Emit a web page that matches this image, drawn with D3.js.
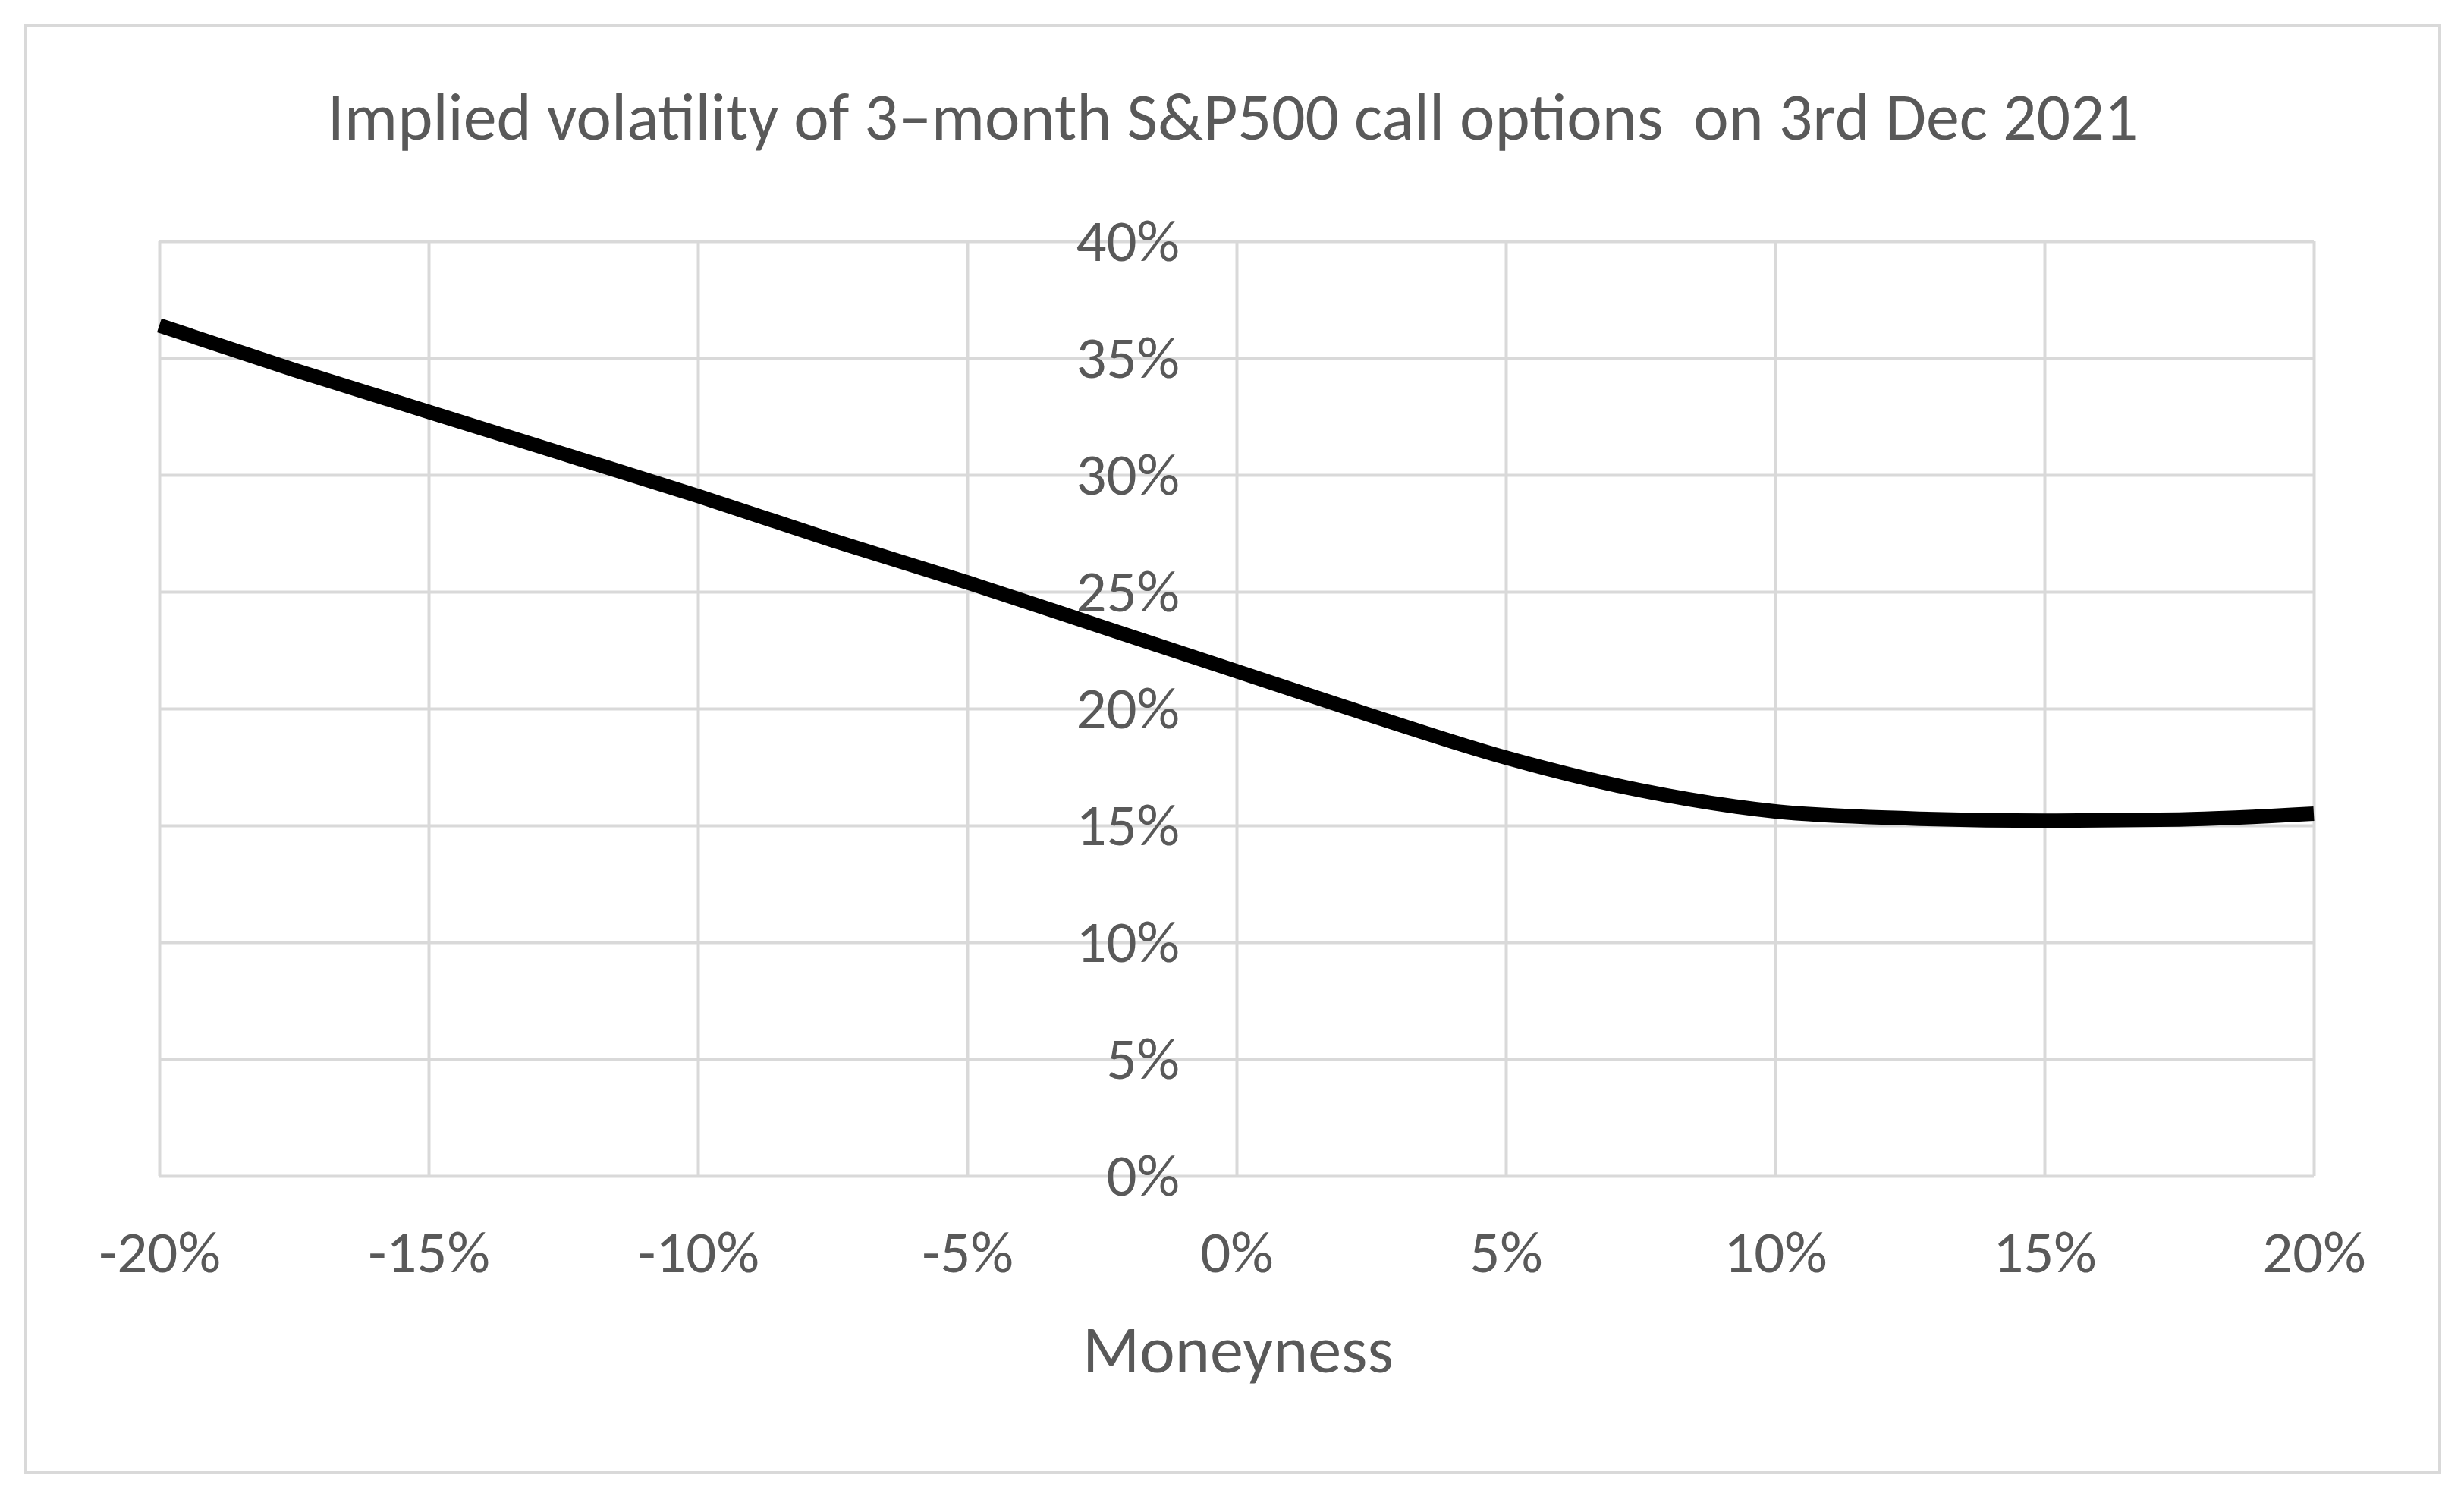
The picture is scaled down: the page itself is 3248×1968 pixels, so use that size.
<!DOCTYPE html>
<html>
<head>
<meta charset="utf-8">
<script src="https://cdn.jsdelivr.net/npm/d3@7"></script>
<style>
  body { margin: 0; background: #fff; }
  text { font-family: Calibri, Carlito, Lato, sans-serif; fill: #595959; }
</style>
</head>
<body>
<svg id="chart"></svg>
<script>
// moneyness (x) and implied vol (y)
const moneyness = [-0.200, -0.175, -0.150, -0.125, -0.100, -0.075, -0.050, -0.025, 0.000,
                   0.025, 0.050, 0.075, 0.100, 0.125, 0.150, 0.175, 0.200];
const impliedVol = [0.364, 0.345, 0.327, 0.309, 0.291, 0.272, 0.254, 0.235, 0.216,
                    0.197, 0.179, 0.165, 0.156, 0.153, 0.152, 0.1525, 0.155];
const xTicks = [-0.20, -0.15, -0.10, -0.05, 0, 0.05, 0.10, 0.15, 0.20];
const yTicks = [0, 0.05, 0.10, 0.15, 0.20, 0.25, 0.30, 0.35, 0.40];
const title = "Implied volatility of 3\u2013month S&P500 call options  on 3rd Dec 2021";
const xTitle = "Moneyness";

const width = 3248;
const height = 1968;
const margin = { top: 318, right: 198, bottom: 418, left: 210 };
const font = "Calibri, Carlito, Lato, sans-serif";

const svg = d3.select("#chart")
  .attr("width", width)
  .attr("height", height);

svg.append("rect")
  .attr("x", 0).attr("y", 0)
  .attr("width", width).attr("height", height)
  .attr("fill", "#fff");

// chart border
svg.append("rect")
  .attr("x", 33).attr("y", 33)
  .attr("width", 3183).attr("height", 1908)
  .attr("fill", "none")
  .attr("stroke", "#d9d9d9")
  .attr("stroke-width", 4);

const x = d3.scaleLinear()
  .domain([-0.2, 0.2])
  .range([margin.left, width - margin.right]);

const y = d3.scaleLinear()
  .domain([0, 0.4])
  .range([height - margin.bottom, margin.top]);

// excel style: plain hyphen for negatives
const pct = v => d3.format(".0%")(v).replace("\u2212", "-");

// grid
const xGrid = g => g
  .attr("transform", `translate(0,${margin.top})`)
  .call(d3.axisTop(x).tickValues(xTicks).tickSize(-(y(0) - y(0.4))).tickFormat(""))
  .call(g => g.select(".domain").remove())
  .call(g => g.selectAll("line").attr("stroke", "#d9d9d9").attr("stroke-width", 4));

const yGrid = g => g
  .attr("transform", `translate(${margin.left},0)`)
  .call(d3.axisLeft(y).tickValues(yTicks).tickSize(-(x(0.2) - x(-0.2))).tickFormat(""))
  .call(g => g.select(".domain").remove())
  .call(g => g.selectAll("line").attr("stroke", "#d9d9d9").attr("stroke-width", 4));

svg.append("g").call(xGrid);
svg.append("g").call(yGrid);

// axis labels
const labelSize = 79;

const xAxis = g => g
  .attr("transform", `translate(0,${y(0)})`)
  .call(d3.axisBottom(x).tickValues(xTicks).tickSize(0).tickPadding(71).tickFormat(pct))
  .call(g => g.select(".domain").remove())
  .call(g => g.selectAll("text")
    .attr("fill", "#595959")
    .style("font-size", labelSize + "px")
    .style("font-family", font));

const yAxis = g => g
  .attr("transform", `translate(${x(0)},0)`)
  .call(d3.axisLeft(y).tickValues(yTicks).tickSize(0).tickPadding(75).tickFormat(pct))
  .call(g => g.select(".domain").remove())
  .call(g => g.selectAll("text")
    .attr("fill", "#595959")
    .style("font-size", labelSize + "px")
    .style("font-family", font));

svg.append("g").call(xAxis);
svg.append("g").call(yAxis);

// the curve
const data = moneyness.map((m, i) => ({ m: m, v: impliedVol[i] }));

const line = d3.line()
  .x(d => x(d.m))
  .y(d => y(d.v))
  .curve(d3.curveMonotoneX);

svg.append("path")
  .datum(data)
  .attr("fill", "none")
  .attr("stroke", "#000")
  .attr("stroke-width", 19)
  .attr("stroke-linejoin", "round")
  .attr("d", line);

// titles
svg.append("text")
  .attr("x", 1625)
  .attr("y", 184)
  .attr("text-anchor", "middle")
  .style("font-size", "88px")
  .style("white-space", "pre")
  .text(title);

svg.append("text")
  .attr("x", 1632)
  .attr("y", 1809)
  .attr("text-anchor", "middle")
  .style("font-size", "88px")
  .text(xTitle);
</script>
</body>
</html>
